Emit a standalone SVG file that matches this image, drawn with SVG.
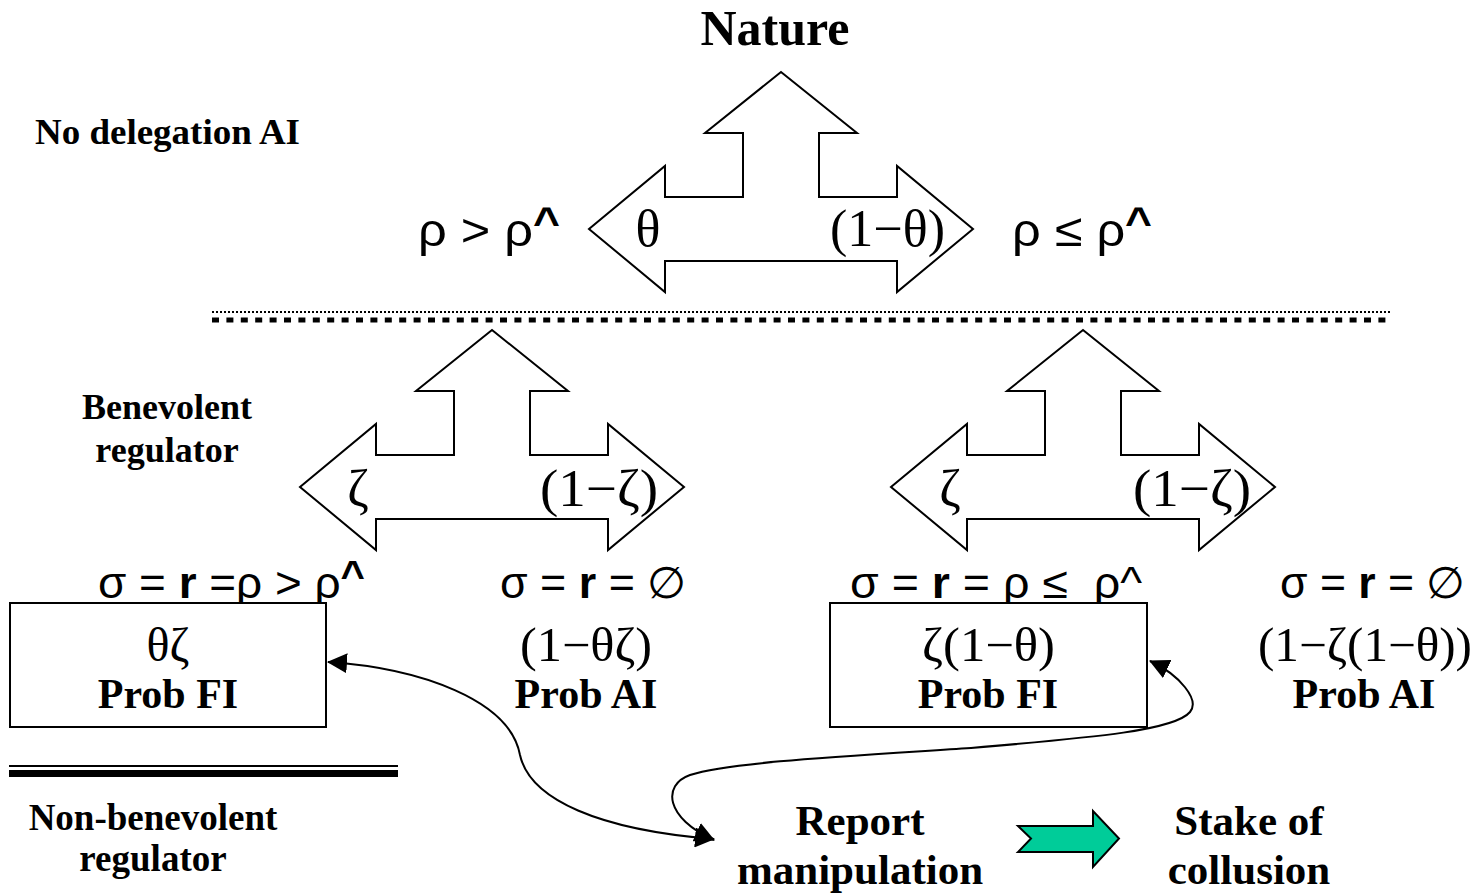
<svg xmlns="http://www.w3.org/2000/svg" width="1477" height="896" viewBox="0 0 1477 896">
<style>
.bs{font-family:"Liberation Serif","Times New Roman",serif;font-weight:bold;fill:#000}
.rs{font-family:"Liberation Serif","Times New Roman",serif;fill:#000}
.ss{font-family:"Liberation Sans",Arial,sans-serif;fill:#000}
.shape{fill:#fff;stroke:#000;stroke-width:2}
.conn{fill:none;stroke:#000;stroke-width:2}
</style>
<defs>
<polygon id="tri" points="0,0 76,61 38,61 38,125 116,125 116,94 192,157 116,220 116,189 -116,189 -116,220 -192,157 -116,94 -116,125 -38,125 -38,61 -76,61" class="shape"/>
<marker id="ah" viewBox="0 0 20 20" refX="19" refY="10" markerWidth="20" markerHeight="20" markerUnits="userSpaceOnUse" orient="auto-start-reverse">
<path d="M0,0 L20,10 L0,20 z" fill="#000"/>
</marker>
</defs>
<rect width="1477" height="896" fill="#fff"/>

<g id="nature">
<text class="bs" x="775" y="45" font-size="50" text-anchor="middle">Nature</text>
<use href="#tri" transform="translate(781,72)"/>
<text class="rs" x="648" y="246" font-size="52" text-anchor="middle">θ</text>
<text class="rs" x="830" y="246" font-size="52" textLength="115" lengthAdjust="spacingAndGlyphs">(1−θ)</text>
</g>

<g id="labels-top">
<text class="bs" x="35" y="144" font-size="36" textLength="265" lengthAdjust="spacingAndGlyphs">No delegation AI</text>
<text class="ss" x="418" y="246" font-size="46" textLength="142" lengthAdjust="spacingAndGlyphs">ρ &gt; ρ<tspan font-weight="bold" font-size="42" dy="-9">^</tspan></text>
<text class="ss" x="1012" y="246" font-size="46" textLength="140" lengthAdjust="spacingAndGlyphs">ρ ≤ ρ<tspan font-weight="bold" font-size="42" dy="-9">^</tspan></text>
</g>

<g id="separator">
<line x1="212" y1="312" x2="1392" y2="312" stroke="#000" stroke-width="2" stroke-dasharray="2 2"/>
<line x1="212" y1="320" x2="1392" y2="320" stroke="#000" stroke-width="5" stroke-dasharray="7 7.4"/>
</g>

<g id="benevolent-label">
<text class="bs" x="167" y="419" font-size="36" text-anchor="middle">Benevolent</text>
<text class="bs" x="167" y="462" font-size="36" text-anchor="middle">regulator</text>
</g>

<g id="split-left">
<use href="#tri" transform="translate(492,330)"/>
<text class="rs" x="358" y="506" font-size="52" text-anchor="middle">ζ</text>
<text class="rs" x="540" y="506" font-size="52" textLength="118" lengthAdjust="spacingAndGlyphs">(1−ζ)</text>
</g>

<g id="split-right">
<use href="#tri" transform="translate(1083,330)"/>
<text class="rs" x="950" y="506" font-size="52" text-anchor="middle">ζ</text>
<text class="rs" x="1133" y="506" font-size="52" textLength="118" lengthAdjust="spacingAndGlyphs">(1−ζ)</text>
</g>

<g id="fi-left">
<text class="ss" x="98" y="598" font-size="44" textLength="267" lengthAdjust="spacingAndGlyphs">σ = <tspan font-weight="bold">r</tspan> =ρ &gt; ρ<tspan font-weight="bold" font-size="40" dy="-9">^</tspan></text>
<rect class="shape" x="10" y="603" width="316" height="124"/>
<text class="rs" x="168" y="661" font-size="48" text-anchor="middle">θζ</text>
<text class="bs" x="168" y="708" font-size="42" text-anchor="middle">Prob FI</text>
</g>

<g id="ai-left">
<text class="ss" x="500" y="598" font-size="44" textLength="186" lengthAdjust="spacingAndGlyphs">σ = <tspan font-weight="bold">r</tspan> = ∅</text>
<text class="rs" x="520" y="661" font-size="48" textLength="132" lengthAdjust="spacingAndGlyphs">(1−θζ)</text>
<text class="bs" x="586" y="708" font-size="42" text-anchor="middle">Prob AI</text>
</g>

<g id="fi-right">
<text class="ss" x="850" y="598" font-size="44" textLength="292" lengthAdjust="spacingAndGlyphs" xml:space="preserve">σ = <tspan font-weight="bold">r</tspan> = ρ ≤  ρ^</text>
<rect class="shape" x="830" y="603" width="317" height="124"/>
<text class="rs" x="922" y="661" font-size="48" textLength="133" lengthAdjust="spacingAndGlyphs">ζ(1−θ)</text>
<text class="bs" x="988" y="708" font-size="42" text-anchor="middle">Prob FI</text>
</g>

<g id="ai-right">
<text class="ss" x="1280" y="598" font-size="44" textLength="185" lengthAdjust="spacingAndGlyphs">σ = <tspan font-weight="bold">r</tspan> = ∅</text>
<text class="rs" x="1258" y="661" font-size="48" textLength="214" lengthAdjust="spacingAndGlyphs">(1−ζ(1−θ))</text>
<text class="bs" x="1364" y="708" font-size="42" text-anchor="middle">Prob AI</text>
</g>

<g id="non-benevolent">
<line x1="9" y1="766" x2="398" y2="766" stroke="#000" stroke-width="2"/>
<line x1="9" y1="773.5" x2="398" y2="773.5" stroke="#000" stroke-width="7"/>
<text class="bs" x="153" y="830" font-size="37" text-anchor="middle">Non-benevolent</text>
<text class="bs" x="153" y="871" font-size="37" text-anchor="middle">regulator</text>
</g>

<g id="report">
<text class="bs" x="860" y="835" font-size="43" text-anchor="middle">Report</text>
<text class="bs" x="860" y="884" font-size="43" text-anchor="middle">manipulation</text>
</g>

<g id="stake">
<text class="bs" x="1249" y="835" font-size="43" text-anchor="middle">Stake of</text>
<text class="bs" x="1249" y="884" font-size="43" text-anchor="middle">collusion</text>
</g>

<g id="connectors">
<path class="conn" d="M328,662 C420,668 510,700 520,755 C530,800 600,830 714,839" marker-start="url(#ah)" marker-end="url(#ah)"/>
<path class="conn" d="M1150,661 C1180,675 1200,700 1190,712 C1175,730 1100,737 971,748 C850,756 730,762 690,775 C662,785 665,818 714,840" marker-start="url(#ah)" marker-end="url(#ah)"/>
<polygon points="1018,826 1031,838.5 1018,852 1093,852 1093,867 1119,838.5 1093,811 1093,826" fill="#00CC99" stroke="#000" stroke-width="2"/>
</g>
</svg>
